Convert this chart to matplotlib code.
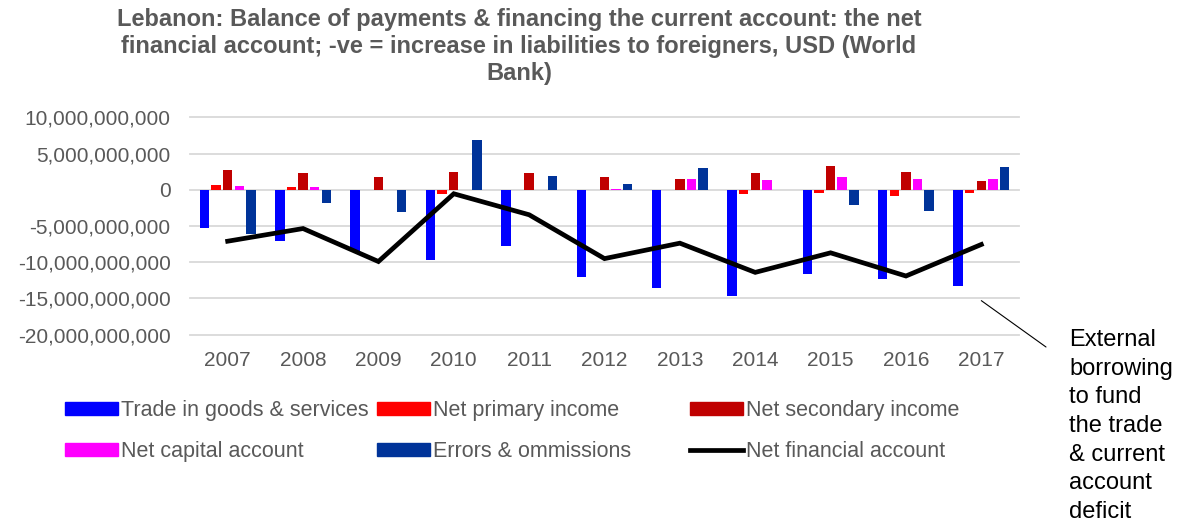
import matplotlib.pyplot as plt
import numpy as np
from matplotlib.lines import Line2D
from matplotlib.patches import Patch
from matplotlib.ticker import FuncFormatter

plt.rcParams['font.family'] = ['Liberation Sans', 'DejaVu Sans']

years = ['2007', '2008', '2009', '2010', '2011', '2012', '2013', '2014', '2015', '2016', '2017']

# USD, World Bank balance of payments
trade = [-5.3e9, -7.1e9, -8.4e9, -9.7e9, -7.8e9, -12.1e9, -13.5e9, -14.6e9, -11.6e9, -12.3e9, -13.3e9]
primary = [0.64e9, 0.32e9, -0.1e9, -0.6e9, -0.1e9, -0.05e9, -0.1e9, -0.6e9, -0.5e9, -0.8e9, -0.45e9]
secondary = [2.67e9, 2.25e9, 1.74e9, 2.39e9, 2.25e9, 1.7e9, 1.5e9, 2.25e9, 3.27e9, 2.39e9, 1.15e9]
capital = [0.5e9, 0.32e9, 0.0, 0.0, 0.0, 0.05e9, 1.42e9, 1.28e9, 1.7e9, 1.47e9, 1.47e9]
errors = [-6.1e9, -1.8e9, -3.1e9, 6.9e9, 1.93e9, 0.73e9, 3.0e9, 0.0, -2.07e9, -2.95e9, 3.13e9]
net_financial = [-7.1e9, -5.35e9, -9.9e9, -0.55e9, -3.45e9, -9.5e9, -7.37e9, -11.4e9, -8.7e9, -11.9e9, -7.55e9]

bar_series = [
    ('Trade in goods & services', trade, '#0000FF'),
    ('Net primary income', primary, '#FF0000'),
    ('Net secondary income', secondary, '#C00000'),
    ('Net capital account', capital, '#FF00FF'),
    ('Errors & ommissions', errors, '#003399'),
]

grey = '#595959'

fig = plt.figure(figsize=(12.01, 5.23), dpi=100)
ax = fig.add_axes([190 / 1201, 1 - 334.7 / 523, (1019 - 190) / 1201, (334.7 - 117.3) / 523])

x = np.arange(len(years))
step = 0.154
for i, (name, vals, col) in enumerate(bar_series):
    ax.bar(x + (i - 2) * step, vals, width=0.125, color=col, zorder=2)

ax.plot(x, net_financial, color='black', lw=3.4, solid_joinstyle='miter', zorder=3)

ax.set_xlim(-0.5, len(years) - 0.5)
ax.set_ylim(-20e9, 10e9)
ax.set_yticks(np.arange(-20e9, 10.1e9, 5e9))
ax.yaxis.set_major_formatter(FuncFormatter(lambda v, p: f'{v:,.0f}'))
ax.set_xticks(x)
ax.set_xticklabels(years)
ax.tick_params(axis='both', length=0, labelsize=15, labelcolor=grey)
ax.tick_params(axis='y', pad=14)
ax.tick_params(axis='x', pad=12)
ax.grid(axis='y', color='#D9D9D9', lw=1.3, zorder=0, clip_on=False)
for s in ax.spines.values():
    s.set_visible(False)

fig.text(519 / 1201, 1 - 8 / 523,
         'Lebanon: Balance of payments & financing the current account: the net\n'
         'financial account; -ve = increase in liabilities to foreigners, USD (World\n'
         'Bank)',
         ha='center', va='top', fontsize=17, fontweight='bold', color=grey,
         linespacing=1.22)

# legend laid out as three fixed columns
handles = [Patch(color=c) for _, _, c in bar_series]
handles.append(Line2D([], [], color='black', lw=3.4))
labels = [n for n, _, _ in bar_series] + ['Net financial account']
cols = [(0, 3), (1, 4), (2, 5)]
col_x = [65, 377, 690]
for (a, b), cx in zip(cols, col_x):
    leg = fig.legend([handles[a], handles[b]], [labels[a], labels[b]],
                     loc='upper left', bbox_to_anchor=(cx / 1201, 1 - 400 / 523),
                     frameon=False, fontsize=15.5, handlelength=2.45, handleheight=0.55,
                     handletextpad=0.15, labelspacing=0.93, borderaxespad=0,
                     borderpad=0)
    for t in leg.get_texts():
        t.set_color(grey)

ax.annotate('', xy=(10.0, -15.3e9), xytext=(1046, 523 - 347), textcoords='figure pixels',
            arrowprops=dict(arrowstyle='-', color='black', lw=0.8, shrinkA=0, shrinkB=0))
fig.text(1069 / 1201, 1 - 329 / 523,
         'External\nborrowing\nto fund\nthe trade\n& current\naccount\ndeficit',
         ha='left', va='top', fontsize=17, color='black', linespacing=1.39)

fig.savefig('out.png', dpi=100)
